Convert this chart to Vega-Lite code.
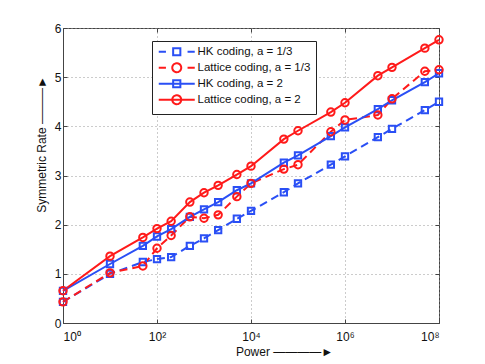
{
  "$schema": "https://vega.github.io/schema/vega-lite/v6.json",
  "width": 376,
  "height": 295,
  "autosize": {"type": "none"},
  "padding": {"left": 63, "top": 28, "right": 46, "bottom": 41},
  "background": "white",
  "config": {
    "font": "Liberation Sans",
    "view": {"stroke": "#444", "strokeWidth": 1},
    "axis": {
      "domainColor": "#444",
      "tickColor": "#444",
      "labelFont": "Liberation Sans",
      "titleFont": "Liberation Sans",
      "labelColor": "#111",
      "labelFontSize": 12,
      "titleFontSize": 12,
      "titleFontWeight": "normal",
      "titleColor": "#111",
      "gridColor": "#999",
      "gridDash": [1, 3],
      "gridWidth": 1
    },
    "legend": {"labelFont": "Liberation Sans"}
  },
  "datasets": {
    "rates": [
      {"series": "HK coding, a = 1/3", "power": 1, "rate": 0.43},
      {"series": "HK coding, a = 1/3", "power": 10, "rate": 1.0},
      {"series": "HK coding, a = 1/3", "power": 50, "rate": 1.24},
      {"series": "HK coding, a = 1/3", "power": 100, "rate": 1.3},
      {"series": "HK coding, a = 1/3", "power": 200, "rate": 1.34},
      {"series": "HK coding, a = 1/3", "power": 500, "rate": 1.57},
      {"series": "HK coding, a = 1/3", "power": 1000, "rate": 1.72},
      {"series": "HK coding, a = 1/3", "power": 2000, "rate": 1.89},
      {"series": "HK coding, a = 1/3", "power": 5000, "rate": 2.12},
      {"series": "HK coding, a = 1/3", "power": 10000, "rate": 2.28},
      {"series": "HK coding, a = 1/3", "power": 50000, "rate": 2.66},
      {"series": "HK coding, a = 1/3", "power": 100000, "rate": 2.84},
      {"series": "HK coding, a = 1/3", "power": 500000, "rate": 3.22},
      {"series": "HK coding, a = 1/3", "power": 1000000, "rate": 3.39},
      {"series": "HK coding, a = 1/3", "power": 5000000, "rate": 3.78},
      {"series": "HK coding, a = 1/3", "power": 10000000, "rate": 3.95},
      {"series": "HK coding, a = 1/3", "power": 50000000, "rate": 4.33},
      {"series": "HK coding, a = 1/3", "power": 100000000, "rate": 4.5},
      {"series": "Lattice coding, a = 1/3", "power": 1, "rate": 0.43},
      {"series": "Lattice coding, a = 1/3", "power": 10, "rate": 1.02},
      {"series": "Lattice coding, a = 1/3", "power": 50, "rate": 1.16},
      {"series": "Lattice coding, a = 1/3", "power": 100, "rate": 1.52},
      {"series": "Lattice coding, a = 1/3", "power": 200, "rate": 1.78},
      {"series": "Lattice coding, a = 1/3", "power": 500, "rate": 2.16},
      {"series": "Lattice coding, a = 1/3", "power": 1000, "rate": 2.13},
      {"series": "Lattice coding, a = 1/3", "power": 2000, "rate": 2.2},
      {"series": "Lattice coding, a = 1/3", "power": 5000, "rate": 2.57},
      {"series": "Lattice coding, a = 1/3", "power": 10000, "rate": 2.84},
      {"series": "Lattice coding, a = 1/3", "power": 50000, "rate": 3.13},
      {"series": "Lattice coding, a = 1/3", "power": 100000, "rate": 3.22},
      {"series": "Lattice coding, a = 1/3", "power": 500000, "rate": 3.89},
      {"series": "Lattice coding, a = 1/3", "power": 1000000, "rate": 4.13},
      {"series": "Lattice coding, a = 1/3", "power": 5000000, "rate": 4.23},
      {"series": "Lattice coding, a = 1/3", "power": 10000000, "rate": 4.56},
      {"series": "Lattice coding, a = 1/3", "power": 50000000, "rate": 5.12},
      {"series": "Lattice coding, a = 1/3", "power": 100000000, "rate": 5.15},
      {"series": "HK coding, a = 2", "power": 1, "rate": 0.655},
      {"series": "HK coding, a = 2", "power": 10, "rate": 1.2},
      {"series": "HK coding, a = 2", "power": 50, "rate": 1.57},
      {"series": "HK coding, a = 2", "power": 100, "rate": 1.76},
      {"series": "HK coding, a = 2", "power": 200, "rate": 1.91},
      {"series": "HK coding, a = 2", "power": 500, "rate": 2.16},
      {"series": "HK coding, a = 2", "power": 1000, "rate": 2.31},
      {"series": "HK coding, a = 2", "power": 2000, "rate": 2.46},
      {"series": "HK coding, a = 2", "power": 5000, "rate": 2.7},
      {"series": "HK coding, a = 2", "power": 10000, "rate": 2.84},
      {"series": "HK coding, a = 2", "power": 50000, "rate": 3.26},
      {"series": "HK coding, a = 2", "power": 100000, "rate": 3.41},
      {"series": "HK coding, a = 2", "power": 500000, "rate": 3.8},
      {"series": "HK coding, a = 2", "power": 1000000, "rate": 3.98},
      {"series": "HK coding, a = 2", "power": 5000000, "rate": 4.35},
      {"series": "HK coding, a = 2", "power": 10000000, "rate": 4.53},
      {"series": "HK coding, a = 2", "power": 50000000, "rate": 4.9},
      {"series": "HK coding, a = 2", "power": 100000000, "rate": 5.08},
      {"series": "Lattice coding, a = 2", "power": 1, "rate": 0.655},
      {"series": "Lattice coding, a = 2", "power": 10, "rate": 1.36},
      {"series": "Lattice coding, a = 2", "power": 50, "rate": 1.74},
      {"series": "Lattice coding, a = 2", "power": 100, "rate": 1.92},
      {"series": "Lattice coding, a = 2", "power": 200, "rate": 2.07},
      {"series": "Lattice coding, a = 2", "power": 500, "rate": 2.46},
      {"series": "Lattice coding, a = 2", "power": 1000, "rate": 2.65},
      {"series": "Lattice coding, a = 2", "power": 2000, "rate": 2.8},
      {"series": "Lattice coding, a = 2", "power": 5000, "rate": 3.02},
      {"series": "Lattice coding, a = 2", "power": 10000, "rate": 3.19},
      {"series": "Lattice coding, a = 2", "power": 50000, "rate": 3.74},
      {"series": "Lattice coding, a = 2", "power": 100000, "rate": 3.91},
      {"series": "Lattice coding, a = 2", "power": 500000, "rate": 4.29},
      {"series": "Lattice coding, a = 2", "power": 1000000, "rate": 4.48},
      {"series": "Lattice coding, a = 2", "power": 5000000, "rate": 5.03},
      {"series": "Lattice coding, a = 2", "power": 10000000, "rate": 5.2},
      {"series": "Lattice coding, a = 2", "power": 50000000, "rate": 5.59},
      {"series": "Lattice coding, a = 2", "power": 100000000, "rate": 5.76}
    ]
  },
  "data": {"name": "rates"},
  "resolve": {"axis": {"x": "independent", "y": "independent"}},
  "layer": [
    {
      "transform": [{"filter": "indexof(datum.series, '1/3') > 0"}],
      "mark": {"type": "line", "strokeWidth": 2, "strokeDash": [8, 5]},
      "encoding": {
        "x": {
          "field": "power", "type": "quantitative",
          "scale": {"type": "log", "domain": [1, 100000000], "nice": false},
          "axis": {
            "values": [1, 100, 10000, 1000000, 100000000],
            "labelExpr": "datum.value == 1 ? '10⁰' : datum.value == 100 ? '10²' : datum.value == 10000 ? '10⁴' : datum.value == 1000000 ? '10⁶' : '10⁸'",
            "grid": true,
            "tickSize": -4,
            "labelPadding": 12,
            "title": "Power  ————►",
            "titleAnchor": "middle",
            "titleX": 221,
            "titleY": 28,
            "titleBaseline": "middle"
          }
        },
        "y": {
          "field": "rate", "type": "quantitative",
          "scale": {"domain": [0, 6], "nice": false},
          "axis": {
            "values": [0, 1, 2, 3, 4, 5, 6],
            "grid": true,
            "tickSize": -4,
            "labelPadding": 6,
            "title": "Symmetric Rate ———►",
            "titleAnchor": "middle",
            "titleX": -22,
            "titleY": 116,
            "titleBaseline": "middle"
          }
        },
        "color": {
          "field": "series", "type": "nominal",
          "scale": {
            "domain": ["HK coding, a = 1/3", "Lattice coding, a = 1/3", "HK coding, a = 2", "Lattice coding, a = 2"],
            "range": ["#2a4ff5", "#ff1a1a", "#2a4ff5", "#ff1a1a"]
          },
          "legend": {
            "title": null,
            "orient": "none",
            "legendX": 89,
            "legendY": 13,
            "fillColor": "white",
            "strokeColor": "#222",
            "padding": 5,
            "cornerRadius": 0,
            "labelFontSize": 11.5,
            "labelColor": "#111",
            "symbolSize": 64,
            "symbolOffset": 14,
            "labelOffset": 15,
            "symbolStrokeWidth": 2,
            "symbolDash": [1, 0],
            "symbolType": "M-4.5,0H4.5",
            "rowPadding": -1,
            "labelLimit": 300,
            "encode": {
              "symbols": {
                "update": {
                  "shape": {"signal": "indexof(datum.value, 'HK') == 0 ? (indexof(datum.value, '1/3') > 0 ? 'M-4.5,0H-2.7M2.7,0H4.5M-0.9,-0.9H0.9V0.9H-0.9Z' : 'M-4.5,0H4.5M-0.9,-0.9H0.9V0.9H-0.9Z') : (indexof(datum.value, '1/3') > 0 ? 'M-4.5,0H-2.7M2.7,0H4.5M1.12,0A1.12,1.12 0 1,1 -1.12,0A1.12,1.12 0 1,1 1.12,0Z' : 'M-4.5,0H4.5M1.12,0A1.12,1.12 0 1,1 -1.12,0A1.12,1.12 0 1,1 1.12,0Z')"},
                  "fill": {"value": "transparent"},
                  "strokeWidth": {"value": 2}
                }
              }
            }
          }
        }
      }
    },
    {
      "transform": [{"filter": "indexof(datum.series, '1/3') < 0"}],
      "mark": {"type": "line", "strokeWidth": 2},
      "encoding": {
        "x": {"field": "power", "type": "quantitative", "axis": null},
        "y": {"field": "rate", "type": "quantitative", "axis": null},
        "color": {"field": "series", "type": "nominal"}
      }
    },
    {
      "transform": [{"filter": "indexof(datum.series, 'HK') == 0"}],
      "mark": {"type": "point", "shape": "square", "filled": false, "strokeWidth": 2, "size": 40, "opacity": 1},
      "encoding": {
        "x": {"field": "power", "type": "quantitative", "axis": null},
        "y": {"field": "rate", "type": "quantitative", "axis": null},
        "color": {"field": "series", "type": "nominal"}
      }
    },
    {
      "transform": [{"filter": "indexof(datum.series, 'Lattice') == 0"}],
      "mark": {"type": "point", "shape": "circle", "filled": false, "strokeWidth": 2, "size": 55, "opacity": 1},
      "encoding": {
        "x": {"field": "power", "type": "quantitative", "axis": {"orient": "top", "values": [1, 100, 10000, 1000000, 100000000], "labels": false, "title": null, "grid": false, "domain": false, "tickSize": -4}},
        "y": {"field": "rate", "type": "quantitative", "axis": {"orient": "right", "values": [0, 1, 2, 3, 4, 5, 6], "labels": false, "title": null, "grid": false, "domain": false, "tickSize": -4}},
        "color": {"field": "series", "type": "nominal"}
      }
    }
  ]
}
